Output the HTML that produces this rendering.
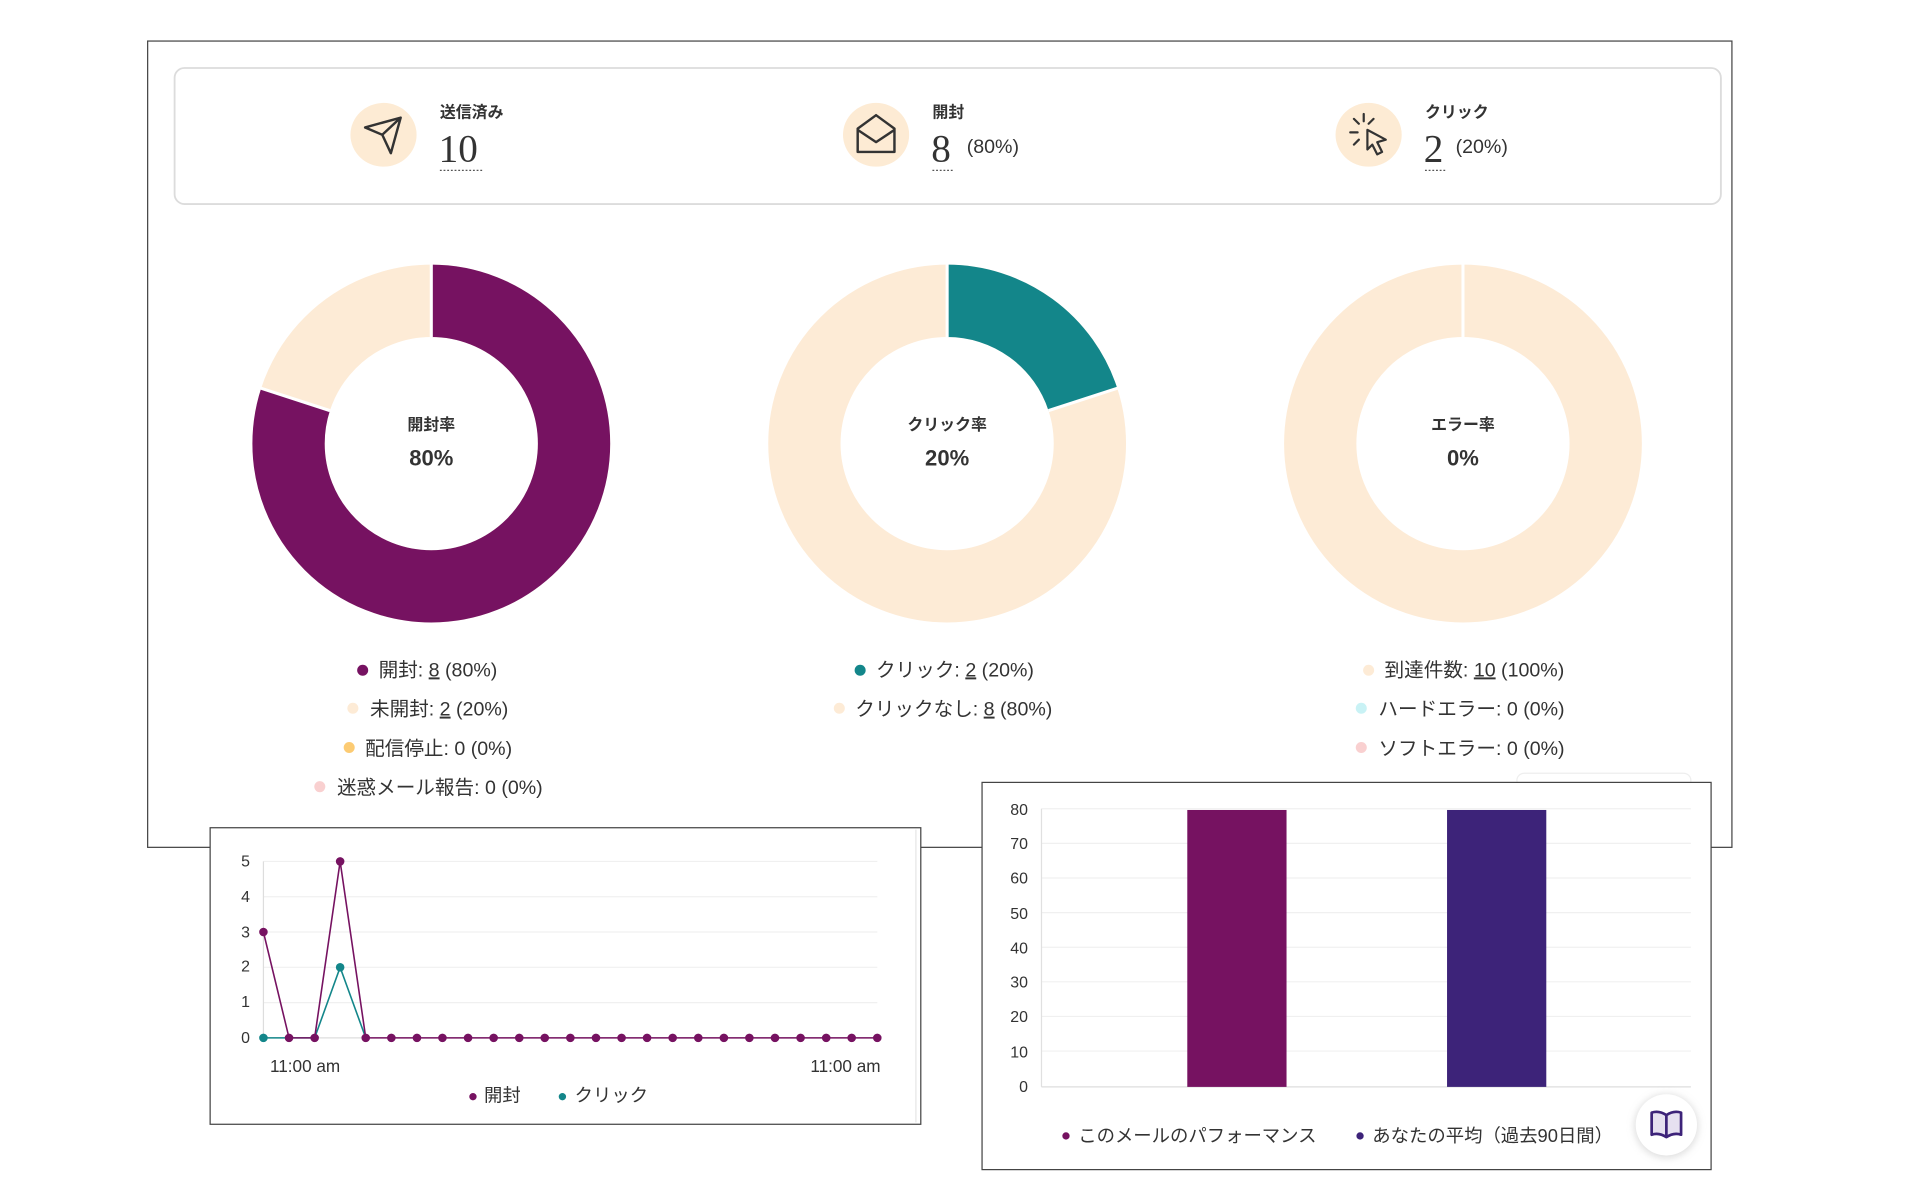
<!DOCTYPE html>
<html><head><meta charset="utf-8"><style>
html,body{margin:0;padding:0;background:#fff;width:1920px;height:1200px;overflow:hidden}
svg{display:block}
text{font-family:"Liberation Sans","Noto Sans CJK JP",sans-serif;fill:#333}
text.sf{font-family:"Liberation Serif",serif}
</style></head><body>
<svg width="1920" height="1200" viewBox="0 0 1567 979.3" preserveAspectRatio="none" xmlns="http://www.w3.org/2000/svg">
<defs><filter id="sh" x="-50%" y="-50%" width="200%" height="200%"><feGaussianBlur stdDeviation="3"/></filter></defs>
<rect x="0" y="0" width="1567" height="980" fill="#fff"/>
<rect x="120.5" y="33.5" width="1293" height="658" fill="#fff" stroke="#444" stroke-width="1"/>
<rect x="142.5" y="55.5" width="1262" height="111" rx="8" fill="#fff" stroke="#dcdcdc" stroke-width="1.5"/>
<g>
 <ellipse cx="313" cy="110" rx="27" ry="26" fill="#fdebd4"/>
 <path d="M298 104 L327 96 L319 125 L312 110 Z M312 110 L327 96" fill="none" stroke="#333" stroke-width="2" stroke-linejoin="round"/>
 <text x="359" y="96" font-size="13" font-weight="bold">送信済み</text>
 <text class="sf" x="358" y="132" font-size="32">10</text>
 <line x1="359" y1="139" x2="395" y2="139" stroke="#555" stroke-dasharray="1.5 1.5"/>

 <ellipse cx="715" cy="110" rx="27" ry="26" fill="#fdebd4"/>
 <path d="M700 105 L715 94 L730 105 L730 124 L700 124 Z M700 106 L715 116 L730 106" fill="none" stroke="#333" stroke-width="2" stroke-linejoin="round"/>
 <text x="761" y="96" font-size="13" font-weight="bold">開封</text>
 <text class="sf" x="760" y="132" font-size="32">8</text>
 <text x="789" y="125" font-size="16" fill="#555">(80%)</text>
 <line x1="761" y1="139" x2="779" y2="139" stroke="#555" stroke-dasharray="1.5 1.5"/>

 <ellipse cx="1117" cy="110" rx="27" ry="26" fill="#fdebd4"/>
 <path d="M1116 106 L1131 114 L1124 116 L1128 124 L1124 126 L1120 118 L1116 122 Z" fill="none" stroke="#333" stroke-width="1.8" stroke-linejoin="round"/>
 <path d="M1113 93 L1113 99 M1105 97 L1109 101 M1121 97 L1117 101 M1102 108 L1108 108 M1105 118 L1109 114" stroke="#333" stroke-width="1.8" stroke-linecap="round"/>
 <text x="1163" y="96" font-size="13" font-weight="bold">クリック</text>
 <text class="sf" x="1162" y="132" font-size="32">2</text>
 <text x="1188" y="125" font-size="16" fill="#555">(20%)</text>
 <line x1="1163" y1="139" x2="1181" y2="139" stroke="#555" stroke-dasharray="1.5 1.5"/>
</g>
<g>
 <circle cx="352" cy="362" r="116.5" fill="none" stroke="#fdebd6" stroke-width="59"/>
 <circle cx="352" cy="362" r="116.5" fill="none" stroke="#761261" stroke-width="59" stroke-dasharray="585.5 200" transform="rotate(-90 352 362)"/>
 <line x1="352" y1="275" x2="352" y2="215" stroke="#fff" stroke-width="2.5"/>
 <line x1="269.3" y1="335.1" x2="212" y2="316.5" stroke="#fff" stroke-width="2.5"/>
 <text x="352" y="351" font-size="13" font-weight="bold" text-anchor="middle">開封率</text>
 <text x="352" y="380" font-size="18" font-weight="bold" text-anchor="middle">80%</text>

 <circle cx="773" cy="362" r="116.5" fill="none" stroke="#fdebd6" stroke-width="59"/>
 <circle cx="773" cy="362" r="116.5" fill="none" stroke="#13868a" stroke-width="59" stroke-dasharray="146.4 800" transform="rotate(-90 773 362)"/>
 <line x1="773" y1="275" x2="773" y2="215" stroke="#fff" stroke-width="2.5"/>
 <line x1="855.7" y1="335.1" x2="913" y2="316.5" stroke="#fff" stroke-width="2.5"/>
 <text x="773" y="351" font-size="13" font-weight="bold" text-anchor="middle">クリック率</text>
 <text x="773" y="380" font-size="18" font-weight="bold" text-anchor="middle">20%</text>

 <circle cx="1194" cy="362" r="116.5" fill="none" stroke="#fdebd6" stroke-width="59"/>
 <line x1="1194" y1="275" x2="1194" y2="215" stroke="#fff" stroke-width="2.5"/>
 <text x="1194" y="351" font-size="13" font-weight="bold" text-anchor="middle">エラー率</text>
 <text x="1194" y="380" font-size="18" font-weight="bold" text-anchor="middle">0%</text>
</g>
<g font-size="16">
 <circle cx="296" cy="547" r="4.5" fill="#761261"/><text x="309" y="552">開封: <tspan text-decoration="underline">8</tspan> (80%)</text>
 <circle cx="288" cy="578" r="4.5" fill="#fdebd6"/><text x="302" y="584">未開封: <tspan text-decoration="underline">2</tspan> (20%)</text>
 <circle cx="285" cy="610" r="4.5" fill="#fccb73"/><text x="298" y="616">配信停止: 0 (0%)</text>
 <circle cx="261" cy="642" r="4.5" fill="#f9d0d0"/><text x="275" y="648">迷惑メール報告: 0 (0%)</text>

 <circle cx="702" cy="547" r="4.5" fill="#13868a"/><text x="715" y="552">クリック: <tspan text-decoration="underline">2</tspan> (20%)</text>
 <circle cx="685" cy="578" r="4.5" fill="#fdebd6"/><text x="698" y="584">クリックなし: <tspan text-decoration="underline">8</tspan> (80%)</text>

 <circle cx="1117" cy="547" r="4.5" fill="#fdebd6"/><text x="1130" y="552">到達件数: <tspan text-decoration="underline">10</tspan> (100%)</text>
 <circle cx="1111" cy="578" r="4.5" fill="#c9f2f5"/><text x="1125" y="584">ハードエラー: 0 (0%)</text>
 <circle cx="1111" cy="610" r="4.5" fill="#f9d0d0"/><text x="1125" y="616">ソフトエラー: 0 (0%)</text>
</g>
<rect x="171.5" y="675.5" width="580" height="242" fill="#fff" stroke="#444" stroke-width="1"/>
<line x1="747.5" y1="677" x2="747.5" y2="916" stroke="#e6e6e6"/>
<g stroke="#f0f0f0" stroke-width="1">
 <line x1="215" y1="703" x2="716" y2="703"/><line x1="215" y1="731.8" x2="716" y2="731.8"/>
 <line x1="215" y1="760.6" x2="716" y2="760.6"/><line x1="215" y1="789.4" x2="716" y2="789.4"/>
 <line x1="215" y1="818.2" x2="716" y2="818.2"/>
</g>
<line x1="215" y1="703" x2="215" y2="847" stroke="#ddd"/>
<line x1="215" y1="847" x2="716" y2="847" stroke="#ddd"/>
<g font-size="13" text-anchor="end" fill="#444">
 <text x="204" y="707">5</text><text x="204" y="736">4</text><text x="204" y="765">3</text>
 <text x="204" y="793">2</text><text x="204" y="822">1</text><text x="204" y="851">0</text>
</g>
<polyline points="215,847 256.8,847 277.6,789.4 298.5,847" fill="none" stroke="#13868a" stroke-width="1.3"/>
<polyline points="215,760.6 235.9,847 256.8,847 277.6,703 298.5,847 716,847" fill="none" stroke="#761261" stroke-width="1.3"/>
<g fill="#761261">
 <circle cx="215" cy="760.6" r="3.5"/><circle cx="235.9" cy="847" r="3.5"/><circle cx="256.8" cy="847" r="3.5"/><circle cx="277.6" cy="703" r="3.5"/>
 <circle cx="298.5" cy="847" r="3.5"/><circle cx="319.4" cy="847" r="3.5"/><circle cx="340.3" cy="847" r="3.5"/><circle cx="361.1" cy="847" r="3.5"/>
 <circle cx="382" cy="847" r="3.5"/><circle cx="402.9" cy="847" r="3.5"/><circle cx="423.8" cy="847" r="3.5"/><circle cx="444.6" cy="847" r="3.5"/>
 <circle cx="465.5" cy="847" r="3.5"/><circle cx="486.4" cy="847" r="3.5"/><circle cx="507.3" cy="847" r="3.5"/><circle cx="528.1" cy="847" r="3.5"/>
 <circle cx="549" cy="847" r="3.5"/><circle cx="569.9" cy="847" r="3.5"/><circle cx="590.8" cy="847" r="3.5"/><circle cx="611.6" cy="847" r="3.5"/>
 <circle cx="632.5" cy="847" r="3.5"/><circle cx="653.4" cy="847" r="3.5"/><circle cx="674.3" cy="847" r="3.5"/><circle cx="695.1" cy="847" r="3.5"/>
 <circle cx="716" cy="847" r="3.5"/>
</g>
<circle cx="215" cy="847" r="3.5" fill="#13868a"/><circle cx="277.6" cy="789.4" r="3.5" fill="#13868a"/>
<text x="249" y="875" font-size="14" text-anchor="middle">11:00 am</text>
<text x="690" y="875" font-size="14" text-anchor="middle">11:00 am</text>
<circle cx="386" cy="895" r="3" fill="#761261"/><text x="395" y="899" font-size="15">開封</text>
<circle cx="459" cy="895" r="3" fill="#13868a"/><text x="469" y="899" font-size="15">クリック</text>
<rect x="1238" y="631" width="142" height="12" rx="6" fill="#fff" stroke="#eee"/>
<rect x="801.5" y="638.5" width="595" height="316" fill="#fff" stroke="#444" stroke-width="1"/>
<g stroke="#f0f0f0">
 <line x1="850" y1="660" x2="1380" y2="660"/><line x1="850" y1="688.25" x2="1380" y2="688.25"/>
 <line x1="850" y1="716.5" x2="1380" y2="716.5"/><line x1="850" y1="744.75" x2="1380" y2="744.75"/>
 <line x1="850" y1="773" x2="1380" y2="773"/><line x1="850" y1="801.25" x2="1380" y2="801.25"/>
 <line x1="850" y1="829.5" x2="1380" y2="829.5"/><line x1="850" y1="857.75" x2="1380" y2="857.75"/>
</g>
<line x1="850" y1="660" x2="850" y2="887" stroke="#e0e0e0"/>
<line x1="850" y1="887" x2="1380" y2="887" stroke="#ddd"/>
<g font-size="13" text-anchor="end" fill="#444">
 <text x="839" y="665">80</text><text x="839" y="693">70</text><text x="839" y="721">60</text>
 <text x="839" y="750">50</text><text x="839" y="778">40</text><text x="839" y="806">30</text>
 <text x="839" y="834">20</text><text x="839" y="863">10</text><text x="839" y="891">0</text>
</g>
<rect x="969" y="661" width="81" height="226" fill="#761261"/>
<rect x="1181" y="661" width="81" height="226" fill="#3d2379"/>
<circle cx="870" cy="927" r="3" fill="#761261"/><text x="880" y="932" font-size="15">このメールのパフォーマンス</text>
<circle cx="1110" cy="927" r="3" fill="#3d2379"/><text x="1120" y="932" font-size="15">あなたの平均（過去90日間）</text>
<circle cx="1360" cy="919" r="26" fill="#bbb" opacity="0.5" filter="url(#sh)"/>
<circle cx="1360" cy="918" r="25" fill="#fff"/>
<path d="M1348 908 Q1354 906 1360 910 Q1366 906 1372 908 L1372 926 Q1366 924 1360 928 Q1354 924 1348 926 Z M1360 910 L1360 928" fill="#e6e0f0" stroke="#3d2379" stroke-width="2.2" stroke-linejoin="round"/>
</svg>
</body></html>
